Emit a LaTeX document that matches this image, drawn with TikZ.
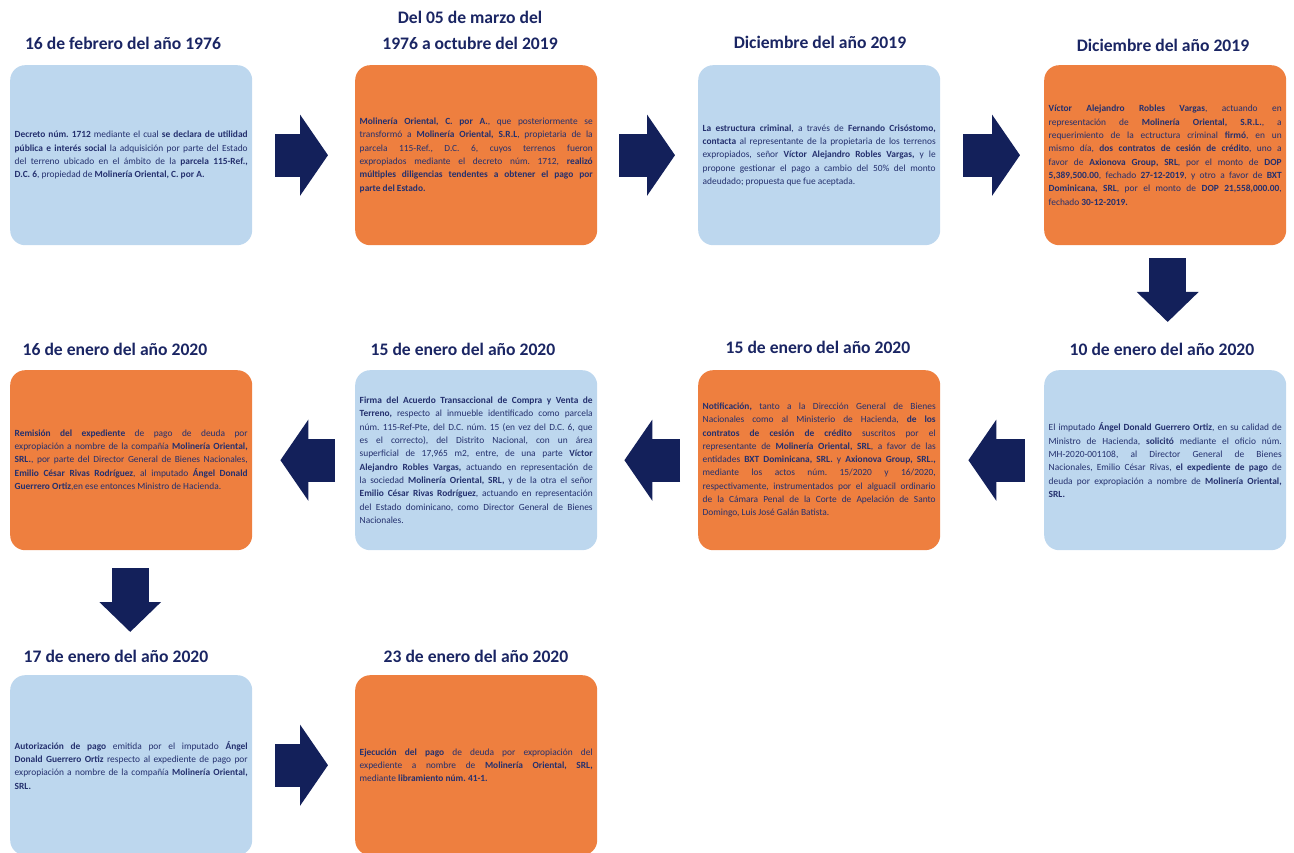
\documentclass[tikz,border=0pt]{standalone}
\usepackage{fontspec}
\setmainfont{Carlito}
\usetikzlibrary{arrows.meta,calc}
\frenchspacing
\definecolor{lblue}{HTML}{BDD7EE}
\definecolor{orng}{HTML}{EE7F3F}
\definecolor{navy}{HTML}{13205A}
\definecolor{txt}{HTML}{24306E}
\definecolor{hdr}{HTML}{1A2563}
\tikzset{
 card/.style={rounded corners=15pt, minimum width=242pt, minimum height=180pt, text width=233pt, inner xsep=4.5pt, align=justify, font=\fontsize{9.4}{13.3}\selectfont, text=txt, anchor=north west},
 bluecard/.style={card, fill=lblue},
 orangecard/.style={card, fill=orng},
 heading/.style={font=\fontsize{17.6}{26}\selectfont\bfseries, text=hdr, align=center},
 bigarrow/.style={draw=navy, line width=43pt, -{Triangle[length=28pt,width=80pt]}},
 downarrow/.style={draw=navy, line width=37pt, -{Triangle[length=30pt,width=60pt]}},
}
\begin{document}
\begin{tikzpicture}[x=1pt,y=-1pt]
\useasboundingbox (0,0) rectangle (1294,853);
\clip (0,0) rectangle (1294,853);
% headings
\node[heading] (h1) at (123,43) {16 de febrero del año 1976};
\node[heading] (h2) at (470,30) {Del 05 de marzo del\\1976 a octubre del 2019};
\node[heading] (h3) at (820,42) {Diciembre del año 2019};
\node[heading] (h4) at (1163,45) {Diciembre del año 2019};
\node[heading] (h5) at (115,349) {16 de enero del año 2020};
\node[heading] (h6) at (463,349) {15 de enero del año 2020};
\node[heading] (h7) at (818,347) {15 de enero del año 2020};
\node[heading] (h8) at (1162,349) {10 de enero del año 2020};
\node[heading] (h9) at (116,656) {17 de enero del año 2020};
\node[heading] (h10) at (476,656) {23 de enero del año 2020};
% row 1
\node[bluecard] (b1) at (10,65) {\textbf{Decreto núm. 1712} mediante el cual \textbf{se declara de utilidad}\linebreak
\textbf{pública e interés social} la adquisición por  parte del Estado\linebreak
del terreno ubicado en el ámbito de la \textbf{parcela 115-Ref.,}\linebreak
\textbf{D.C. 6}, propiedad de \textbf{Molinería Oriental, C. por A.}};
\node[orangecard] (b2) at (355,65) {\textbf{Molinería Oriental, C. por A.}, que posteriormente se\linebreak
transformó a \textbf{Molinería Oriental, S.R.L}, propietaria de la\linebreak
parcela 115-Ref., D.C. 6, cuyos terrenos fueron\linebreak
expropiados mediante el decreto núm. 1712, \textbf{realizó}\linebreak
\textbf{múltiples diligencias tendentes a obtener el pago por}\linebreak
\textbf{parte del Estado.}};
\node[bluecard] (b3) at (698,65) {\textbf{La estructura criminal}, a través de \textbf{Fernando Crisóstomo,}\linebreak
\textbf{contacta} al representante de la propietaria de los terrenos\linebreak
expropiados, señor \textbf{Víctor Alejandro Robles Vargas,} y le\linebreak
propone gestionar el pago a cambio del 50\% del monto\linebreak
adeudado; propuesta que fue aceptada.};
\node[orangecard] (b4) at (1044,65) {\textbf{Víctor Alejandro Robles Vargas}, actuando en\linebreak
representación de \textbf{Molinería Oriental, S.R.L.}, a\linebreak
requerimiento de la ectructura criminal \textbf{firmó}, en un\linebreak
mismo día, \textbf{dos contratos de cesión de crédito}, uno a\linebreak
favor de \textbf{Axionova Group, SRL}, por el monto de \textbf{DOP}\linebreak
\textbf{5,389,500.00}, fechado \textbf{27-12-2019}, y otro a favor de \textbf{BXT}\linebreak
\textbf{Dominicana, SRL}, por el monto de \textbf{DOP 21,558,000.00},\linebreak
fechado \textbf{30-12-2019.}};
% row 2
\node[orangecard] (b5) at (10,370) {\textbf{Remisión del expediente} de pago de deuda por\linebreak
expropiación a nombre de la compañía \textbf{Molinería Oriental,}\linebreak
\textbf{SRL.}, por parte del Director General de Bienes Nacionales,\linebreak
\textbf{Emilio César Rivas Rodríguez}, al imputado \textbf{Ángel Donald}\linebreak
\textbf{Guerrero Ortiz},en ese entonces Ministro de Hacienda.};
\node[bluecard] (b6) at (355,370) {\textbf{Firma del Acuerdo Transaccional de Compra y Venta de}\linebreak
\textbf{Terreno,} respecto al inmueble identificado como parcela\linebreak
núm. 115-Ref-Pte, del D.C. núm. 15 (en vez del D.C. 6, que\linebreak
es el correcto), del Distrito Nacional, con un área\linebreak
superficial de 17,965 m2, entre, de una parte \textbf{Víctor}\linebreak
\textbf{Alejandro Robles Vargas,} actuando en representación de\linebreak
la sociedad \textbf{Molinería Oriental, SRL,} y de la otra el señor\linebreak
\textbf{Emilio César Rivas Rodríguez}, actuando en representación\linebreak
del Estado dominicano, como Director General de Bienes\linebreak
Nacionales.};
\node[orangecard] (b7) at (698,370) {\textbf{Notificación,} tanto a la Dirección General de Bienes\linebreak
Nacionales como al Ministerio de Hacienda, \textbf{de los}\linebreak
\textbf{contratos de cesión de crédito} suscritos por el\linebreak
representante de \textbf{Molinería Oriental, SRL}, a favor de las\linebreak
entidades \textbf{BXT Dominicana, SRL.} y \textbf{Axionova Group, SRL.,}\linebreak
mediante los actos núm. 15/2020 y 16/2020,\linebreak
respectivamente, instrumentados por el alguacil ordinario\linebreak
de la Cámara Penal de la Corte de Apelación de Santo\linebreak
Domingo, Luis José Galán Batista.};
\node[bluecard] (b8) at (1044,370) {El imputado \textbf{Ángel Donald Guerrero Ortiz}, en su calidad de\linebreak
Ministro de Hacienda, \textbf{solicitó} mediante el oficio núm.\linebreak
MH-2020-001108, al Director General de Bienes\linebreak
Nacionales, Emilio César Rivas, \textbf{el expediente de pago} de\linebreak
deuda por expropiación a nombre de \textbf{Molinería Oriental,}\linebreak
\textbf{SRL.}};
% row 3
\node[bluecard] (b9) at (10,675) {\textbf{Autorización de pago} emitida por el imputado \textbf{Ángel}\linebreak
\textbf{Donald Guerrero Ortiz} respecto al expediente de pago por\linebreak
expropiación a nombre de la compañía \textbf{Molinería Oriental,}\linebreak
\textbf{SRL.}};
\node[orangecard] (b10) at (355,675) {\textbf{Ejecución del pago} de deuda por expropiación del\linebreak
expediente a nombre de \textbf{Molinería Oriental, SRL,}\linebreak
mediante \textbf{libramiento núm. 41-1.}};
% arrow end points
\coordinate (a1s) at ($(b1.east)+(23,0)$);
\coordinate (a1e) at ($(b2.west)+(-27,0)$);
\coordinate (a2s) at ($(b2.east)+(22,0)$);
\coordinate (a2e) at ($(b3.west)+(-23,0)$);
\coordinate (a3s) at ($(b3.east)+(23,0)$);
\coordinate (a3e) at ($(b4.west)+(-24,0)$);
\coordinate (a4s) at ($(b4.south)+(2.5,13)$);
\coordinate (a4e) at ($(b8.north)+(2.5,-48)$);
\coordinate (a5s) at ($(b8.west)+(-19,0)$);
\coordinate (a5e) at ($(b7.east)+(28,0)$);
\coordinate (a6s) at ($(b7.west)+(-18,0)$);
\coordinate (a6e) at ($(b6.east)+(27,0)$);
\coordinate (a7s) at ($(b6.west)+(-20,0)$);
\coordinate (a7e) at ($(b5.east)+(28,0)$);
\coordinate (a8s) at ($(b5.south)+(-1,18)$);
\coordinate (a8e) at ($(b9.north)+(-1,-43)$);
\coordinate (a9s) at ($(b9.east)+(23,0)$);
\coordinate (a9e) at ($(b10.west)+(-27,0)$);
\draw[bigarrow] (a1s) -- (a1e);
\draw[bigarrow] (a2s) -- (a2e);
\draw[bigarrow] (a3s) -- (a3e);
\draw[downarrow] (a4s) -- (a4e);
\draw[bigarrow] (a5s) -- (a5e);
\draw[bigarrow] (a6s) -- (a6e);
\draw[bigarrow] (a7s) -- (a7e);
\draw[downarrow] (a8s) -- (a8e);
\draw[bigarrow] (a9s) -- (a9e);
\end{tikzpicture}
\end{document}
